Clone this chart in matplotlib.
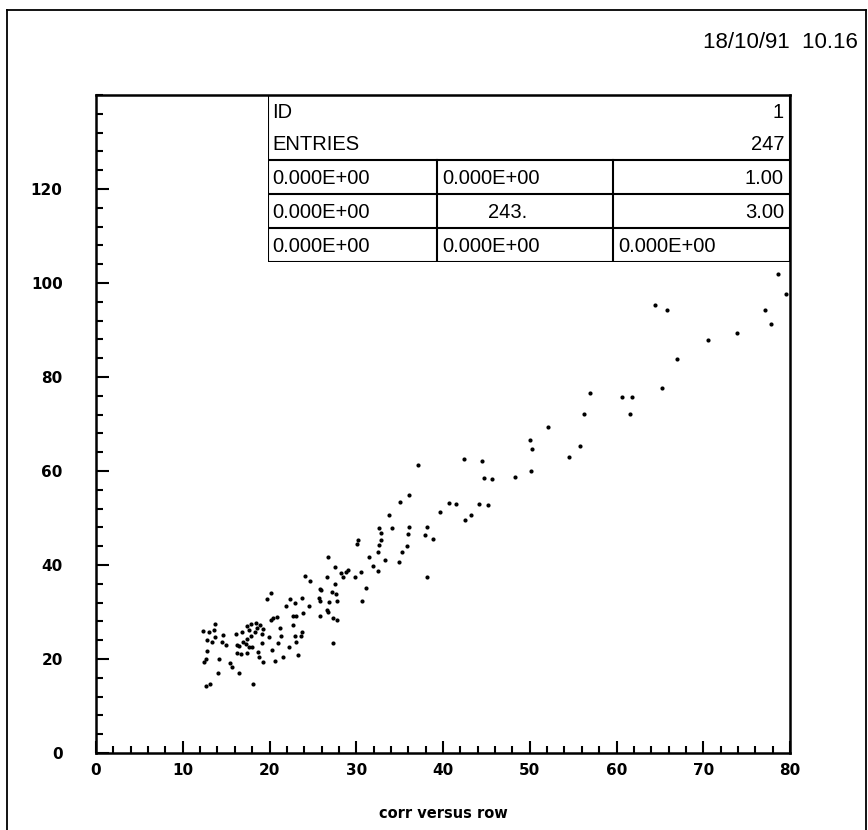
import matplotlib
matplotlib.use('Agg')
import matplotlib.pyplot as plt
from matplotlib.lines import Line2D
from matplotlib.ticker import MultipleLocator, FixedLocator

# row (x) / corr (y) pairs
row = [78.6, 79.5, 64.4, 65.8, 77.1, 77.8, 73.9, 70.5, 67.0, 65.3, 57.0, 60.6, 61.8, 61.6, 56.2,
       52.1, 50.0, 50.3, 55.8, 54.5, 50.2, 44.5, 44.7, 45.7, 48.3,
       37.1, 42.4, 36.1, 35.1, 40.7, 41.5, 44.1, 45.2, 39.7, 43.2, 42.5, 33.8, 32.6, 34.1, 36.1,
       38.2, 32.8, 36.0, 37.9, 38.9, 30.2, 30.1, 32.8, 32.6, 35.8, 32.5, 35.3, 31.5, 26.7, 33.3,
       34.9, 31.9, 27.5, 32.5, 29.0, 28.8, 30.5, 28.2, 38.2, 24.1, 24.7, 26.6, 28.5, 29.8, 27.5,
       25.8, 31.1, 25.9, 27.2, 27.7, 20.2, 19.7, 22.4, 23.8, 25.7, 22.9, 21.9, 24.6, 25.8, 26.9,
       27.8, 30.7, 23.9, 26.6, 26.7, 22.7, 23.0, 25.8, 27.3, 27.8, 20.4, 20.9, 20.2, 22.7, 21.2,
       23.8, 23.6, 21.3,
       13.7, 12.3, 13.0, 13.6, 14.6, 13.7, 12.8, 13.4, 14.5, 15.0, 16.1, 16.8,
       17.4, 17.9, 18.4, 18.9, 19.2, 19.1, 17.6, 18.3, 18.6,
       17.4, 17.9, 16.2, 16.5, 17.0, 17.3, 17.6, 18.0, 16.3, 16.7, 17.4, 19.1, 19.9, 12.8, 12.7,
       12.5, 14.2, 15.4, 15.7, 14.1, 16.5, 18.8, 19.2, 18.7, 13.1, 12.7, 18.1,
       20.3, 21.0, 22.3, 22.9, 23.3, 21.5, 20.6, 23.0, 27.3]
corr = [101.9, 97.6, 95.3, 94.3, 94.3, 91.3, 89.4, 87.9, 83.8, 77.7, 76.6, 75.7, 75.8, 72.2, 72.2,
        69.3, 66.7, 64.7, 65.4, 62.9, 60.1, 62.2, 58.5, 58.2, 58.8,
        61.3, 62.5, 54.8, 53.5, 53.2, 52.9, 52.9, 52.8, 51.3, 50.6, 49.5, 50.6, 47.9, 47.9, 48.1,
        48.1, 46.8, 46.7, 46.4, 45.6, 45.3, 44.4, 45.3, 44.3, 44.1, 42.8, 42.8, 41.8, 41.7, 41.0,
        40.7, 39.8, 39.5, 38.8, 38.9, 38.5, 38.5, 38.4, 37.5, 37.7, 36.7, 37.4, 37.4, 37.4, 36.0,
        35.0, 35.2, 34.7, 34.3, 33.9, 34.1, 32.7, 32.8, 33.0, 33.0, 32.0, 31.3, 31.3, 32.3, 32.1,
        32.3, 32.3, 29.7, 30.4, 29.9, 29.1, 29.2, 29.1, 28.7, 28.4, 28.8, 28.9, 28.3, 27.3, 26.5,
        25.7, 24.9, 24.9,
        27.5, 26.0, 25.7, 26.2, 25.2, 24.7, 24.0, 23.6, 23.6, 23.0, 25.4, 25.7,
        27.0, 27.4, 27.6, 27.3, 26.4, 25.4, 26.2, 25.8, 26.6,
        24.3, 24.9, 23.0, 22.8, 23.7, 23.1, 22.5, 22.5, 21.2, 21.0, 21.2, 23.3, 24.6, 21.7, 20.1,
        19.3, 19.9, 19.1, 18.2, 17.0, 17.1, 20.5, 19.4, 21.4, 14.7, 14.3, 14.6,
        22.0, 23.5, 22.6, 25.0, 20.8, 20.5, 19.5, 23.6, 23.5]

stats = [['ID', '', '1'],
         ['ENTRIES', '', '247'],
         ['0.000E+00', '0.000E+00', '1.00'],
         ['0.000E+00', '243.', '3.00'],
         ['0.000E+00', '0.000E+00', '0.000E+00']]
date_str = '18/10/91  10.16'
xlabel = 'corr versus row'
yticks = [0, 20, 40, 60, 80, 100, 120]

W, H = 868, 830
fig = plt.figure(figsize=(W / 100, H / 100), dpi=100)
tfont = ['Liberation Sans', 'DejaVu Sans']
tsize = 14.5


def fx(px):
    return px / W


def fy(py):
    return 1 - py / H


# outer frame
for xs, ys in [([7, 7], [10, 830]), ([7, 866], [10, 10]), ([866, 866], [10, 830])]:
    fig.add_artist(Line2D([fx(v) for v in xs], [fy(v) for v in ys], color='black', lw=1.3))

fig.text(fx(858), fy(42), date_str, ha='right', va='center', fontsize=16, family=tfont)

ax = fig.add_axes([fx(96), fy(753), fx(790) - fx(96), fy(95) - fy(753)])
ax.scatter(row, corr, s=9, c='black', linewidths=0)
ax.set_xlim(0, 80)
ax.set_ylim(0, 140)
ax.xaxis.set_major_locator(MultipleLocator(10))
ax.xaxis.set_minor_locator(MultipleLocator(2))
ax.yaxis.set_major_locator(FixedLocator(yticks))
ax.yaxis.set_minor_locator(MultipleLocator(4))
ax.tick_params(which='both', direction='in', width=1.5, top=False, right=False)
ax.tick_params(which='major', length=9)
ax.tick_params(which='minor', length=5)
ax.tick_params(axis='y', which='major', pad=24, labelsize=11)
ax.tick_params(axis='x', which='major', pad=7, labelsize=11)
for lab in ax.get_xticklabels() + ax.get_yticklabels():
    lab.set_fontweight('bold')
for sp in ax.spines.values():
    sp.set_linewidth(1.8)
ax.set_xlabel(xlabel, fontsize=10.5, fontweight='bold', labelpad=20)

# statistics box
tab = fig.add_axes([fx(268), fy(262), fx(790) - fx(268), fy(95) - fy(262)])
tab.set_xlim(268, 790)
tab.set_ylim(262, 95)
tab.axis('off')
lw = 1.5
tab.plot([268, 790, 790, 268, 268], [95, 95, 262, 262, 95], color='black', lw=lw)
for yy in [160, 194, 228]:
    tab.plot([268, 790], [yy, yy], color='black', lw=lw)
for xx in [437, 613]:
    tab.plot([xx, xx], [160, 262], color='black', lw=lw)

row_y = [113, 145, 178, 212, 246]
for i, r in enumerate(stats):
    y = row_y[i]
    tab.text(272, y, r[0], ha='left', va='center', fontsize=tsize, family=tfont)
    if r[1]:
        if r[1] == '243.':
            tab.text(508, y, r[1], ha='center', va='center', fontsize=tsize, family=tfont)
        else:
            tab.text(442, y, r[1], ha='left', va='center', fontsize=tsize, family=tfont)
    if r[2].startswith('0.000'):
        tab.text(618, y, r[2], ha='left', va='center', fontsize=tsize, family=tfont)
    else:
        tab.text(784, y, r[2], ha='right', va='center', fontsize=tsize, family=tfont)

fig.savefig('out.png', dpi=100)
